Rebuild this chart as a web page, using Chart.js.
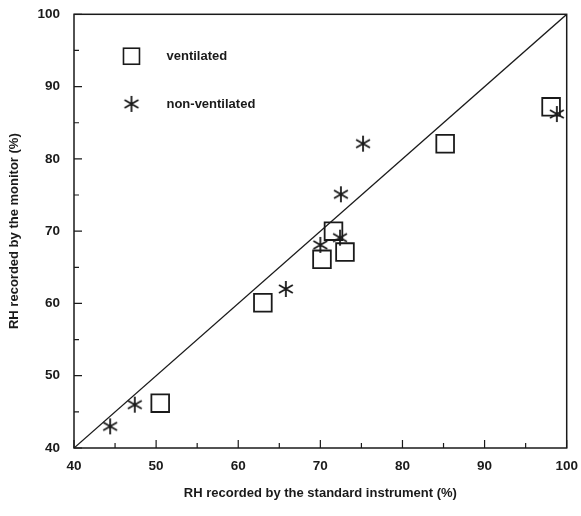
<!DOCTYPE html>
<html>
<head>
<meta charset="utf-8">
<script src="https://cdn.jsdelivr.net/npm/chart.js@4/dist/chart.umd.min.js"></script>
<style>
    html, body { margin: 0; padding: 0; background: #fff; }
    #wrap { width: 581px; height: 516px; position: relative; }
</style>
</head>
<body>
<div id="wrap"><canvas id="rhChart" width="581" height="516"></canvas></div>
<script>
// dados
const ventX = [50.5, 63, 70.2, 71.6, 73, 85.2, 98.1];
const ventY = [46.2, 60.1, 66.1, 70, 67.1, 82.1, 87.2];
const nonVentX = [44.4, 47.4, 65.8, 70, 72.4, 72.5, 75.2, 98.8];
const nonVentY = [43, 46, 62, 68.1, 69.1, 75.1, 82.1, 86.2];
const lineX = [40, 100];
const lineY = [40, 100];
const tickValues = [40, 50, 60, 70, 80, 90, 100];

const INK = '#1a1a1a';
const FONT = '"Liberation Sans", Arial, sans-serif';

function toPoints(xs, ys) {
    return xs.map((x, i) => ({ x: x, y: ys[i] }));
}

// asterisco de 6 pontas
function makeAsterisk(size) {
    const c = document.createElement('canvas');
    c.width = size; c.height = size;
    const g = c.getContext('2d');
    const r = size / 2 - 1;
    g.strokeStyle = INK;
    g.lineWidth = 1.8;
    g.beginPath();
    for (let k = 0; k < 3; k++) {
        const a = Math.PI / 2 + k * Math.PI / 3;
        g.moveTo(size / 2 + r * Math.cos(a), size / 2 + r * Math.sin(a));
        g.lineTo(size / 2 - r * Math.cos(a), size / 2 - r * Math.sin(a));
    }
    g.stroke();
    return c;
}
const asterisk = makeAsterisk(18);

// ticks internos, moldura e legenda
const framePlugin = {
    id: 'frame',
    afterDraw(chart) {
        const { ctx, chartArea: a, scales } = chart;
        ctx.save();
        ctx.strokeStyle = INK;
        ctx.lineWidth = 1.5;
        ctx.strokeRect(a.left, a.top, a.right - a.left, a.bottom - a.top);
        ctx.lineWidth = 1.2;
        ctx.beginPath();
        for (let v = 40; v <= 100; v += 5) {
            const len = v % 10 === 0 ? 8 : 5;
            const px = scales.x.getPixelForValue(v);
            ctx.moveTo(px, a.bottom); ctx.lineTo(px, a.bottom - len);
            const py = scales.y.getPixelForValue(v);
            ctx.moveTo(a.left, py); ctx.lineTo(a.left + len, py);
        }
        ctx.stroke();

        // legenda
        const lx = scales.x.getPixelForValue(47), ty1 = scales.y.getPixelForValue(94.2), ty2 = scales.y.getPixelForValue(87.6);
        ctx.lineWidth = 1.6;
        ctx.strokeRect(lx - 8, ty1 - 8, 16, 16);
        ctx.drawImage(asterisk, lx - 9, ty2 - 9);
        ctx.fillStyle = INK;
        ctx.font = 'bold 13px ' + FONT;
        ctx.textBaseline = 'middle';
        ctx.fillText('ventilated', lx + 35, ty1);
        ctx.fillText('non-ventilated', lx + 35, ty2);
        ctx.restore();
    }
};

const tickFont = { family: FONT, size: 13.5, weight: 'bold' };
const titleFont = { family: FONT, size: 13, weight: 'bold' };

new Chart(document.getElementById('rhChart'), {
    type: 'scatter',
    data: {
        datasets: [
            {
                label: 'y = x',
                data: toPoints(lineX, lineY),
                showLine: true,
                borderColor: INK,
                borderWidth: 1.3,
                pointRadius: 0,
                order: 3
            },
            {
                label: 'ventilated',
                data: toPoints(ventX, ventY),
                pointStyle: 'rect',
                pointRadius: 12.5,
                pointBorderWidth: 1.8,
                pointBorderColor: INK,
                pointBackgroundColor: 'rgba(0,0,0,0)',
                order: 2
            },
            {
                label: 'non-ventilated',
                data: toPoints(nonVentX, nonVentY),
                pointStyle: asterisk,
                pointRadius: 9,
                order: 1
            }
        ]
    },
    options: {
        responsive: false,
        animation: false,
        events: [],
        layout: { padding: { top: 0, right: 0, left: 0, bottom: 0 } },
        plugins: { legend: { display: false }, tooltip: { enabled: false } },
        scales: {
            x: {
                type: 'linear', min: 40, max: 100,
                afterBuildTicks: s => { s.ticks = tickValues.map(v => ({ value: v })); },
                afterFit: s => { s.height = 68; s.paddingLeft = 0; s.paddingRight = 0; },
                grid: { display: false, drawTicks: false },
                border: { display: false },
                ticks: { color: INK, font: tickFont, padding: 10, maxRotation: 0 },
                title: { display: true, text: 'RH recorded by the standard instrument (%)', color: INK, font: titleFont, padding: { top: 0, bottom: 15 } }
            },
            y: {
                type: 'linear', min: 40, max: 100,
                afterBuildTicks: s => { s.ticks = tickValues.map(v => ({ value: v })); },
                afterFit: s => { s.width = 74; s.paddingTop = 0; s.paddingBottom = 0; },
                grid: { display: false, drawTicks: false },
                border: { display: false },
                ticks: { color: INK, font: tickFont, padding: 14 },
                title: { display: true, text: 'RH recorded by the monitor (%)', color: INK, font: titleFont, padding: { top: 7, bottom: 0 } }
            }
        }
    },
    plugins: [framePlugin]
});
</script>
</body>
</html>
